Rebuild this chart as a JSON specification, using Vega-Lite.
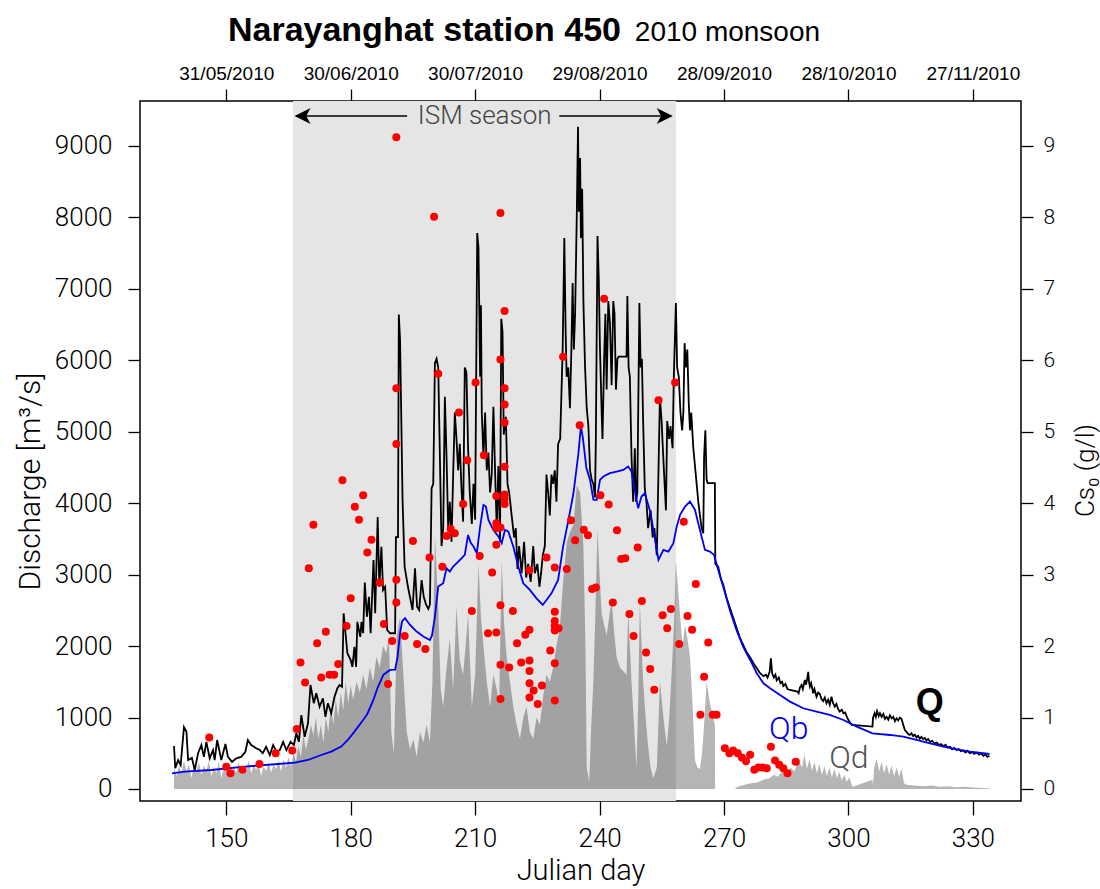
{
  "$schema": "https://vega.github.io/schema/vega-lite/v6.json",
  "width": 881,
  "height": 700,
  "autosize": {"type": "none"},
  "padding": {"left": 140, "top": 101, "right": 79, "bottom": 88},
  "background": "white",
  "config": {
    "view": {"stroke": "black", "strokeWidth": 1.5},
    "axis": {"grid": false, "domain": false, "tickColor": "black", "tickWidth": 1.3, "labelColor": "black", "titleColor": "black", "labelFont": "Roboto", "titleFont": "Roboto", "labelFontWeight": 300, "titleFontWeight": 300}
  },
  "datasets": {
    "q": [
      {"day":137.4,"q":600},{"day":137.7,"q":290},{"day":138.4,"q":405},{"day":139.0,"q":335},{"day":139.8,"q":865},{"day":140.4,"q":800},{"day":140.8,"q":405},{"day":141.7,"q":435},{"day":142.4,"q":265},{"day":143.2,"q":500},{"day":144.0,"q":615},{"day":144.6,"q":450},{"day":145.2,"q":660},{"day":146.0,"q":430},{"day":146.8,"q":545},{"day":147.2,"q":405},{"day":147.8,"q":685},{"day":148.8,"q":405},{"day":149.8,"q":630},{"day":150.4,"q":450},{"day":151.4,"q":380},{"day":152.4,"q":430},{"day":153.6,"q":450},{"day":154.6,"q":520},{"day":155.2,"q":685},{"day":156.0,"q":615},{"day":157.2,"q":570},{"day":158.1,"q":545},{"day":158.8,"q":500},{"day":159.6,"q":590},{"day":160.5,"q":475},{"day":161.3,"q":615},{"day":162.1,"q":520},{"day":162.9,"q":545},{"day":163.7,"q":660},{"day":164.5,"q":545},{"day":165.5,"q":660},{"day":166.3,"q":615},{"day":166.9,"q":780},{"day":167.5,"q":660},{"day":168.1,"q":1035},{"day":168.9,"q":730},{"day":169.7,"q":920},{"day":170.3,"q":1455},{"day":171.1,"q":1200},{"day":171.7,"q":1340},{"day":172.5,"q":1150},{"day":173.3,"q":1270},{"day":173.9,"q":1010},{"day":174.5,"q":1200},{"day":175.3,"q":1060},{"day":176.1,"q":1290},{"day":176.8,"q":1410},{"day":177.3,"q":1455},{"day":177.9,"q":1430},{"day":178.3,"q":2460},{"day":179.2,"q":1900},{"day":180.0,"q":1805},{"day":180.4,"q":1710},{"day":180.9,"q":1990},{"day":181.3,"q":1710},{"day":181.6,"q":2340},{"day":182.3,"q":2130},{"day":182.6,"q":2340},{"day":183.0,"q":2180},{"day":183.4,"q":2890},{"day":183.9,"q":2410},{"day":184.4,"q":2690},{"day":184.8,"q":2180},{"day":185.5,"q":3205},{"day":185.9,"q":2460},{"day":186.5,"q":3805},{"day":186.9,"q":2830},{"day":187.4,"q":3390},{"day":187.8,"q":2785},{"day":188.3,"q":2830},{"day":188.8,"q":2225},{"day":189.5,"q":2180},{"day":190.7,"q":2180},{"day":190.9,"q":3525},{"day":191.4,"q":3525},{"day":191.6,"q":6640},{"day":191.9,"q":6285},{"day":192.5,"q":4045},{"day":193.0,"q":3110},{"day":193.8,"q":2830},{"day":194.9,"q":2505},{"day":195.5,"q":3090},{"day":196.0,"q":2550},{"day":196.5,"q":2505},{"day":197.1,"q":2925},{"day":197.6,"q":2690},{"day":198.2,"q":2575},{"day":198.7,"q":2520},{"day":199.1,"q":2580},{"day":199.5,"q":4210},{"day":199.9,"q":4270},{"day":200.3,"q":5960},{"day":200.7,"q":6020},{"day":201.1,"q":5900},{"day":201.5,"q":4650},{"day":201.9,"q":3400},{"day":202.3,"q":3650},{"day":202.7,"q":5490},{"day":203.1,"q":4650},{"day":203.5,"q":3650},{"day":203.9,"q":4020},{"day":204.3,"q":3460},{"day":204.7,"q":4400},{"day":205.1,"q":5270},{"day":205.5,"q":4900},{"day":205.9,"q":4460},{"day":206.3,"q":4830},{"day":206.7,"q":4210},{"day":207.1,"q":3740},{"day":207.5,"q":5900},{"day":207.9,"q":5830},{"day":208.3,"q":4770},{"day":208.7,"q":4150},{"day":209.2,"q":3710},{"day":209.6,"q":4270},{"day":210.0,"q":3770},{"day":210.5,"q":7780},{"day":210.8,"q":7580},{"day":211.2,"q":5770},{"day":211.4,"q":6770},{"day":211.6,"q":5270},{"day":212.0,"q":4650},{"day":212.4,"q":5270},{"day":212.8,"q":4460},{"day":213.2,"q":4710},{"day":213.6,"q":4150},{"day":214.0,"q":4400},{"day":214.4,"q":5350},{"day":214.8,"q":4460},{"day":215.2,"q":3650},{"day":215.6,"q":4520},{"day":216.0,"q":3460},{"day":216.3,"q":6580},{"day":216.6,"q":6400},{"day":216.9,"q":4960},{"day":217.4,"q":5210},{"day":217.8,"q":4270},{"day":218.2,"q":4150},{"day":218.8,"q":3830},{"day":219.4,"q":3520},{"day":219.8,"q":3650},{"day":220.2,"q":3080},{"day":220.6,"q":3400},{"day":221.2,"q":3020},{"day":221.8,"q":3460},{"day":222.3,"q":2960},{"day":222.8,"q":3150},{"day":223.4,"q":2900},{"day":224.0,"q":3400},{"day":224.4,"q":3020},{"day":225.0,"q":3150},{"day":225.5,"q":2830},{"day":225.9,"q":3020},{"day":226.3,"q":3270},{"day":226.8,"q":3400},{"day":227.2,"q":4400},{"day":227.6,"q":4150},{"day":228.0,"q":3830},{"day":228.4,"q":4400},{"day":228.8,"q":4270},{"day":229.2,"q":4460},{"day":229.6,"q":4020},{"day":230.0,"q":4830},{"day":230.5,"q":4900},{"day":231.1,"q":6150},{"day":231.5,"q":7710},{"day":231.8,"q":6460},{"day":232.05,"q":5770},{"day":232.45,"q":5900},{"day":232.85,"q":5330},{"day":233.2,"q":6150},{"day":233.5,"q":7080},{"day":233.8,"q":6150},{"day":234.1,"q":6650},{"day":234.5,"q":8020},{"day":234.8,"q":9270},{"day":235.0,"q":8080},{"day":235.3,"q":8830},{"day":235.5,"q":7710},{"day":235.8,"q":8400},{"day":236.1,"q":6830},{"day":236.5,"q":5900},{"day":236.9,"q":5330},{"day":237.3,"q":5080},{"day":237.7,"q":4460},{"day":238.1,"q":4330},{"day":238.5,"q":4270},{"day":238.9,"q":4080},{"day":239.1,"q":4900},{"day":239.5,"q":7740},{"day":239.8,"q":7150},{"day":240.1,"q":6150},{"day":240.5,"q":5270},{"day":240.7,"q":4900},{"day":241.1,"q":6020},{"day":241.4,"q":6650},{"day":241.7,"q":5590},{"day":242.1,"q":6830},{"day":242.5,"q":6520},{"day":242.9,"q":5650},{"day":243.3,"q":6830},{"day":243.6,"q":6650},{"day":243.95,"q":5590},{"day":244.3,"q":6020},{"day":244.6,"q":6050},{"day":246.5,"q":6050},{"day":246.7,"q":6900},{"day":247.0,"q":5900},{"day":247.3,"q":5770},{"day":247.7,"q":4650},{"day":248.1,"q":4020},{"day":248.5,"q":4770},{"day":248.8,"q":4020},{"day":249.1,"q":4150},{"day":249.6,"q":6800},{"day":249.9,"q":5900},{"day":250.2,"q":6020},{"day":250.5,"q":5150},{"day":250.9,"q":4210},{"day":251.3,"q":4020},{"day":251.7,"q":3650},{"day":252.3,"q":3900},{"day":252.8,"q":3520},{"day":253.2,"q":3650},{"day":253.8,"q":3270},{"day":254.55,"q":5490},{"day":254.95,"q":5150},{"day":255.35,"q":4650},{"day":256.0,"q":3900},{"day":256.3,"q":5150},{"day":256.8,"q":4900},{"day":257.1,"q":5080},{"day":257.6,"q":4770},{"day":257.9,"q":5770},{"day":258.4,"q":6800},{"day":258.7,"q":5900},{"day":259.1,"q":5770},{"day":259.5,"q":5270},{"day":259.9,"q":5020},{"day":260.2,"q":5270},{"day":260.5,"q":6240},{"day":260.8,"q":5900},{"day":261.15,"q":6150},{"day":261.5,"q":5400},{"day":261.8,"q":5020},{"day":262.1,"q":5270},{"day":262.6,"q":4770},{"day":263.0,"q":4520},{"day":263.4,"q":4270},{"day":263.8,"q":4020},{"day":264.2,"q":3830},{"day":264.6,"q":3650},{"day":265.0,"q":3580},{"day":265.2,"q":4650},{"day":265.5,"q":5020},{"day":265.8,"q":4330},{"day":266.05,"q":4280},{"day":267.8,"q":4280},{"day":267.9,"q":3150},{"day":268.6,"q":3110},{"day":269.2,"q":2950},{"day":269.8,"q":2860},{"day":270.6,"q":2680},{"day":271.4,"q":2540},{"day":272.2,"q":2400},{"day":273.0,"q":2260},{"day":273.8,"q":2120},{"day":274.6,"q":2020},{"day":275.4,"q":1920},{"day":276.3,"q":1840},{"day":277.1,"q":1760},{"day":277.9,"q":1690},{"day":278.7,"q":1620},{"day":279.5,"q":1580},{"day":280.1,"q":1600},{"day":280.5,"q":1560},{"day":281.0,"q":1640},{"day":281.3,"q":1830},{"day":281.6,"q":1620},{"day":282.0,"q":1560},{"day":282.4,"q":1600},{"day":282.7,"q":1520},{"day":283.2,"q":1560},{"day":283.6,"q":1480},{"day":284.0,"q":1500},{"day":284.3,"q":1440},{"day":284.8,"q":1470},{"day":285.3,"q":1400},{"day":285.9,"q":1386},{"day":287.7,"q":1363},{"day":288.0,"q":1340},{"day":288.3,"q":1420},{"day":288.7,"q":1456},{"day":289.0,"q":1400},{"day":289.5,"q":1526},{"day":289.8,"q":1460},{"day":290.1,"q":1560},{"day":290.3,"q":1640},{"day":290.5,"q":1500},{"day":290.7,"q":1433},{"day":291.0,"q":1480},{"day":291.5,"q":1340},{"day":291.8,"q":1400},{"day":292.3,"q":1293},{"day":292.7,"q":1350},{"day":293.1,"q":1330},{"day":293.5,"q":1260},{"day":293.9,"q":1230},{"day":294.3,"q":1280},{"day":294.7,"q":1200},{"day":295.1,"q":1250},{"day":295.5,"q":1180},{"day":295.9,"q":1293},{"day":296.3,"q":1200},{"day":296.7,"q":1153},{"day":297.1,"q":1190},{"day":297.5,"q":1120},{"day":297.9,"q":1083},{"day":298.4,"q":1110},{"day":298.8,"q":1060},{"day":299.2,"q":1070},{"day":299.7,"q":1000},{"day":300.2,"q":943},{"day":300.8,"q":896},{"day":305.8,"q":873},{"day":305.9,"q":990},{"day":306.3,"q":1060},{"day":306.6,"q":1010},{"day":306.9,"q":1090},{"day":307.3,"q":1020},{"day":307.6,"q":1060},{"day":308.0,"q":1010},{"day":308.4,"q":1050},{"day":308.8,"q":980},{"day":309.2,"q":1010},{"day":309.6,"q":970},{"day":310.0,"q":1030},{"day":310.4,"q":990},{"day":310.8,"q":1010},{"day":311.2,"q":950},{"day":311.6,"q":990},{"day":312.0,"q":960},{"day":312.4,"q":1000},{"day":312.8,"q":980},{"day":313.2,"q":900},{"day":313.6,"q":826},{"day":314.0,"q":800},{"day":314.4,"q":770},{"day":314.8,"q":756},{"day":315.2,"q":780},{"day":315.6,"q":740},{"day":316.0,"q":760},{"day":316.4,"q":720},{"day":316.8,"q":745},{"day":317.2,"q":705},{"day":317.6,"q":730},{"day":318.0,"q":700},{"day":318.4,"q":715},{"day":318.8,"q":680},{"day":319.2,"q":700},{"day":319.7,"q":660},{"day":320.2,"q":675},{"day":320.7,"q":640},{"day":321.3,"q":650},{"day":321.8,"q":615},{"day":322.3,"q":630},{"day":322.9,"q":600},{"day":323.4,"q":620},{"day":323.9,"q":580},{"day":324.5,"q":590},{"day":325.0,"q":555},{"day":325.5,"q":575},{"day":326.1,"q":545},{"day":326.6,"q":560},{"day":327.1,"q":530},{"day":327.7,"q":540},{"day":328.2,"q":510},{"day":328.7,"q":535},{"day":329.3,"q":500},{"day":329.8,"q":520},{"day":330.3,"q":490},{"day":330.9,"q":510},{"day":331.5,"q":480},{"day":332.0,"q":500},{"day":332.5,"q":465},{"day":333.0,"q":480},{"day":333.5,"q":450},{"day":334.0,"q":465}
    ],
    "qb": [
      {"day":136.9,"q":219},{"day":140.0,"q":242},{"day":146.4,"q":266},{"day":154.4,"q":313},{"day":162.5,"q":350},{"day":166.5,"q":368},{"day":169.7,"q":406},{"day":172.9,"q":476},{"day":175.3,"q":523},{"day":177.7,"q":593},{"day":179.3,"q":686},{"day":180.9,"q":803},{"day":183.0,"q":966},{"day":184.0,"q":1050},{"day":185.5,"q":1250},{"day":186.5,"q":1420},{"day":187.9,"q":1600},{"day":189.5,"q":1666},{"day":190.7,"q":1670},{"day":191.3,"q":1850},{"day":191.9,"q":2180},{"day":192.4,"q":2350},{"day":193.1,"q":2390},{"day":194.3,"q":2296},{"day":195.9,"q":2203},{"day":197.5,"q":2133},{"day":199.1,"q":2086},{"day":199.6,"q":2150},{"day":200.3,"q":2413},{"day":201.1,"q":2833},{"day":202.3,"q":2879},{"day":203.1,"q":3089},{"day":203.9,"q":3043},{"day":204.7,"q":3113},{"day":205.5,"q":3159},{"day":206.7,"q":3229},{"day":207.5,"q":3276},{"day":208.3,"q":3556},{"day":208.9,"q":3450},{"day":209.6,"q":3393},{"day":210.4,"q":3300},{"day":211.2,"q":3673},{"day":212.0,"q":3976},{"day":212.6,"q":3953},{"day":213.2,"q":3766},{"day":214.4,"q":3626},{"day":215.6,"q":3533},{"day":216.4,"q":3440},{"day":217.2,"q":3626},{"day":218.0,"q":3603},{"day":219.2,"q":3393},{"day":220.4,"q":3113},{"day":221.6,"q":2879},{"day":223.2,"q":2786},{"day":224.8,"q":2669},{"day":226.3,"q":2576},{"day":227.2,"q":2646},{"day":228.4,"q":2739},{"day":230.0,"q":2926},{"day":231.2,"q":3393},{"day":232.5,"q":3766},{"day":233.7,"q":4139},{"day":234.9,"q":4699},{"day":235.5,"q":5080},{"day":236.0,"q":4900},{"day":236.8,"q":4500},{"day":237.7,"q":4326},{"day":238.5,"q":4050},{"day":239.3,"q":4046},{"day":240.1,"q":4326},{"day":240.9,"q":4373},{"day":242.5,"q":4420},{"day":244.1,"q":4443},{"day":245.7,"q":4466},{"day":246.9,"q":4513},{"day":247.7,"q":4443},{"day":248.9,"q":4046},{"day":249.3,"q":3929},{"day":250.1,"q":4093},{"day":250.9,"q":4139},{"day":252.2,"q":3883},{"day":253.4,"q":3486},{"day":254.2,"q":3206},{"day":255.4,"q":3346},{"day":256.6,"q":3323},{"day":257.8,"q":3439},{"day":258.6,"q":3673},{"day":259.4,"q":3836},{"day":260.6,"q":3953},{"day":261.8,"q":4023},{"day":263.0,"q":3906},{"day":264.2,"q":3626},{"day":265.4,"q":3346},{"day":266.6,"q":3323},{"day":267.6,"q":3276},{"day":268.6,"q":3066},{"day":269.8,"q":2833},{"day":271.4,"q":2506},{"day":273.0,"q":2226},{"day":274.6,"q":1993},{"day":276.3,"q":1806},{"day":277.9,"q":1619},{"day":279.5,"q":1479},{"day":281.1,"q":1409},{"day":283.5,"q":1316},{"day":285.9,"q":1223},{"day":289.1,"q":1130},{"day":292.3,"q":1083},{"day":295.5,"q":1036},{"day":298.8,"q":966},{"day":302.0,"q":873},{"day":305.8,"q":779},{"day":310.0,"q":756},{"day":313.2,"q":733},{"day":316.4,"q":686},{"day":319.7,"q":639},{"day":322.9,"q":593},{"day":326.1,"q":555},{"day":329.3,"q":523},{"day":334.0,"q":490}
    ],
    "qd": [
      {"day":137.4,"q":300},{"day":138.0,"q":180},{"day":138.6,"q":330},{"day":139.2,"q":220},{"day":139.8,"q":400},{"day":140.4,"q":250},{"day":141.0,"q":350},{"day":141.6,"q":150},{"day":142.2,"q":330},{"day":142.8,"q":240},{"day":143.4,"q":380},{"day":144.0,"q":200},{"day":144.6,"q":330},{"day":145.2,"q":250},{"day":145.8,"q":400},{"day":146.4,"q":180},{"day":147.0,"q":300},{"day":147.6,"q":220},{"day":148.2,"q":380},{"day":148.8,"q":150},{"day":149.4,"q":300},{"day":150.0,"q":250},{"day":150.6,"q":350},{"day":151.2,"q":180},{"day":151.8,"q":320},{"day":152.4,"q":230},{"day":153.0,"q":380},{"day":153.6,"q":200},{"day":154.2,"q":310},{"day":154.8,"q":260},{"day":155.4,"q":400},{"day":156.0,"q":220},{"day":156.6,"q":330},{"day":157.2,"q":270},{"day":157.8,"q":360},{"day":158.4,"q":190},{"day":159.0,"q":320},{"day":159.6,"q":250},{"day":160.2,"q":380},{"day":160.8,"q":230},{"day":161.4,"q":340},{"day":162.0,"q":280},{"day":162.6,"q":400},{"day":163.2,"q":250},{"day":163.8,"q":420},{"day":164.4,"q":300},{"day":165.0,"q":450},{"day":165.6,"q":320},{"day":166.2,"q":500},{"day":166.8,"q":380},{"day":167.4,"q":600},{"day":168.0,"q":450},{"day":168.6,"q":750},{"day":169.2,"q":550},{"day":169.8,"q":700},{"day":170.4,"q":900},{"day":171.0,"q":750},{"day":171.6,"q":1000},{"day":172.2,"q":700},{"day":172.8,"q":900},{"day":173.4,"q":650},{"day":174.0,"q":1000},{"day":174.6,"q":800},{"day":175.2,"q":1150},{"day":175.8,"q":900},{"day":176.4,"q":1250},{"day":177.0,"q":1000},{"day":177.6,"q":1350},{"day":178.2,"q":1100},{"day":178.8,"q":1500},{"day":179.4,"q":1200},{"day":180.0,"q":1450},{"day":180.6,"q":1250},{"day":181.4,"q":1500},{"day":182.2,"q":1350},{"day":183.0,"q":1600},{"day":183.8,"q":1400},{"day":184.6,"q":1700},{"day":185.4,"q":1500},{"day":186.2,"q":1850},{"day":187.0,"q":1700},{"day":187.8,"q":2000},{"day":188.6,"q":1900},{"day":189.2,"q":2150},{"day":189.8,"q":800},{"day":190.4,"q":500},{"day":191.1,"q":2150},{"day":191.9,"q":2400},{"day":192.7,"q":1600},{"day":193.5,"q":800},{"day":194.3,"q":550},{"day":195.1,"q":700},{"day":195.9,"q":450},{"day":196.7,"q":800},{"day":197.5,"q":650},{"day":198.3,"q":900},{"day":199.1,"q":650},{"day":199.7,"q":1500},{"day":200.3,"q":3550},{"day":201.1,"q":2550},{"day":201.7,"q":1400},{"day":202.3,"q":1150},{"day":203.1,"q":1700},{"day":203.9,"q":2100},{"day":204.7,"q":1400},{"day":205.5,"q":2550},{"day":206.3,"q":1800},{"day":207.1,"q":1600},{"day":207.7,"q":2000},{"day":208.3,"q":2450},{"day":209.2,"q":1150},{"day":210.0,"q":1600},{"day":210.8,"q":3150},{"day":211.4,"q":2400},{"day":212.0,"q":2000},{"day":212.8,"q":1500},{"day":213.6,"q":1150},{"day":214.4,"q":1600},{"day":215.2,"q":1400},{"day":215.8,"q":1200},{"day":216.4,"q":3200},{"day":217.0,"q":2300},{"day":217.6,"q":1850},{"day":218.4,"q":1500},{"day":219.2,"q":1150},{"day":220.0,"q":900},{"day":220.8,"q":700},{"day":221.6,"q":1000},{"day":222.4,"q":1150},{"day":223.2,"q":800},{"day":224.0,"q":700},{"day":224.8,"q":1000},{"day":225.6,"q":900},{"day":226.4,"q":1300},{"day":227.2,"q":1600},{"day":228.0,"q":1500},{"day":228.8,"q":1700},{"day":229.6,"q":2000},{"day":230.4,"q":2250},{"day":231.2,"q":2900},{"day":232.1,"q":3450},{"day":232.9,"q":3600},{"day":233.7,"q":3700},{"day":234.5,"q":4250},{"day":235.3,"q":4150},{"day":236.1,"q":3400},{"day":236.6,"q":2000},{"day":236.9,"q":300},{"day":237.5,"q":100},{"day":238.0,"q":900},{"day":238.5,"q":1500},{"day":239.0,"q":2500},{"day":239.5,"q":3650},{"day":240.0,"q":3000},{"day":240.5,"q":2450},{"day":241.1,"q":2300},{"day":241.7,"q":2150},{"day":242.3,"q":2400},{"day":242.9,"q":2650},{"day":243.5,"q":2200},{"day":244.1,"q":1850},{"day":244.9,"q":1700},{"day":246.5,"q":1600},{"day":246.9,"q":2500},{"day":247.7,"q":1500},{"day":248.3,"q":900},{"day":248.9,"q":300},{"day":249.3,"q":1200},{"day":249.7,"q":2600},{"day":250.5,"q":1500},{"day":251.1,"q":1000},{"day":251.7,"q":600},{"day":252.3,"q":300},{"day":252.95,"q":150},{"day":253.8,"q":300},{"day":254.55,"q":1500},{"day":255.4,"q":1000},{"day":256.2,"q":600},{"day":256.8,"q":1000},{"day":257.4,"q":1650},{"day":258.0,"q":2400},{"day":258.4,"q":3200},{"day":259.4,"q":2450},{"day":260.0,"q":2000},{"day":260.6,"q":2300},{"day":261.2,"q":2100},{"day":261.8,"q":1850},{"day":262.4,"q":1200},{"day":263.0,"q":400},{"day":263.6,"q":300},{"day":264.2,"q":280},{"day":264.7,"q":500},{"day":265.2,"q":900},{"day":265.8,"q":1500},{"day":266.6,"q":1200},{"day":267.4,"q":1000},{"day":267.8,"q":900},{"day":267.85,"q":0},{"day":272.5,"q":0},{"day":273.5,"q":40},{"day":275.0,"q":60},{"day":276.5,"q":80},{"day":278.0,"q":90},{"day":279.5,"q":130},{"day":281.0,"q":150},{"day":282.0,"q":200},{"day":283.0,"q":170},{"day":284.0,"q":250},{"day":285.0,"q":220},{"day":286.0,"q":300},{"day":287.0,"q":250},{"day":288.0,"q":400},{"day":288.8,"q":300},{"day":289.4,"q":480},{"day":290.0,"q":280},{"day":290.6,"q":420},{"day":291.2,"q":260},{"day":291.8,"q":380},{"day":292.4,"q":220},{"day":293.0,"q":350},{"day":293.6,"q":200},{"day":294.2,"q":320},{"day":294.8,"q":180},{"day":295.4,"q":300},{"day":296.0,"q":160},{"day":296.6,"q":280},{"day":297.2,"q":150},{"day":297.8,"q":240},{"day":298.4,"q":120},{"day":299.0,"q":200},{"day":299.6,"q":100},{"day":300.2,"q":160},{"day":300.8,"q":60},{"day":301.0,"q":30},{"day":305.8,"q":130},{"day":305.9,"q":40},{"day":306.2,"q":300},{"day":306.8,"q":420},{"day":307.4,"q":250},{"day":308.0,"q":380},{"day":308.6,"q":220},{"day":309.2,"q":350},{"day":309.8,"q":200},{"day":310.4,"q":330},{"day":311.0,"q":180},{"day":311.6,"q":300},{"day":312.2,"q":170},{"day":312.8,"q":280},{"day":313.4,"q":80},{"day":314.0,"q":60},{"day":316.0,"q":50},{"day":318.0,"q":40},{"day":320.0,"q":50},{"day":322.0,"q":30},{"day":324.0,"q":40},{"day":326.0,"q":25},{"day":328.0,"q":30},{"day":330.0,"q":20},{"day":332.0,"q":15},{"day":334.0,"q":10}
    ],
    "cs": [
      {"day":145.9,"cs":0.72},{"day":150.0,"cs":0.31},{"day":151.0,"cs":0.22},{"day":153.9,"cs":0.27},{"day":158.0,"cs":0.35},{"day":161.9,"cs":0.5},{"day":165.9,"cs":0.54},{"day":167.0,"cs":0.84},{"day":167.9,"cs":1.77},{"day":169.0,"cs":1.49},{"day":169.9,"cs":3.09},{"day":171.0,"cs":3.7},{"day":171.9,"cs":2.04},{"day":172.9,"cs":1.56},{"day":174.0,"cs":2.2},{"day":174.9,"cs":1.6},{"day":176.0,"cs":1.6},{"day":177.0,"cs":1.75},{"day":178.0,"cs":4.32},{"day":179.0,"cs":2.28},{"day":180.0,"cs":2.67},{"day":181.0,"cs":3.95},{"day":182.0,"cs":3.77},{"day":183.0,"cs":4.11},{"day":184.0,"cs":3.31},{"day":185.0,"cs":3.49},{"day":187.0,"cs":2.89},{"day":188.0,"cs":2.31},{"day":189.0,"cs":1.47},{"day":190.0,"cs":2.07},{"day":191.0,"cs":9.12},{"day":191.0,"cs":5.61},{"day":191.0,"cs":4.83},{"day":191.0,"cs":2.93},{"day":191.0,"cs":2.61},{"day":193.0,"cs":2.14},{"day":195.0,"cs":3.47},{"day":196.0,"cs":2.03},{"day":198.0,"cs":1.96},{"day":199.0,"cs":3.24},{"day":200.1,"cs":8.01},{"day":201.1,"cs":5.81},{"day":202.1,"cs":3.11},{"day":203.1,"cs":3.54},{"day":204.1,"cs":3.64},{"day":205.1,"cs":3.58},{"day":206.1,"cs":5.27},{"day":207.1,"cs":3.99},{"day":208.1,"cs":4.6},{"day":209.2,"cs":2.49},{"day":210.1,"cs":5.69},{"day":211.1,"cs":3.26},{"day":212.1,"cs":4.67},{"day":213.1,"cs":2.18},{"day":214.1,"cs":3.03},{"day":215.1,"cs":4.1},{"day":215.1,"cs":3.72},{"day":215.1,"cs":3.65},{"day":215.1,"cs":3.42},{"day":215.1,"cs":2.19},{"day":216.1,"cs":8.06},{"day":216.1,"cs":6.01},{"day":216.1,"cs":3.66},{"day":216.1,"cs":2.57},{"day":216.1,"cs":1.74},{"day":216.1,"cs":1.26},{"day":217.1,"cs":6.69},{"day":217.1,"cs":5.61},{"day":217.1,"cs":5.38},{"day":217.1,"cs":5.13},{"day":217.1,"cs":4.51},{"day":217.1,"cs":4.12},{"day":217.1,"cs":4.06},{"day":217.1,"cs":3.99},{"day":218.2,"cs":1.7},{"day":219.1,"cs":2.49},{"day":220.1,"cs":2.04},{"day":221.1,"cs":1.77},{"day":222.1,"cs":2.16},{"day":223.1,"cs":3.06},{"day":223.1,"cs":2.23},{"day":223.1,"cs":1.8},{"day":223.1,"cs":1.65},{"day":223.1,"cs":1.48},{"day":223.1,"cs":1.28},{"day":224.1,"cs":1.38},{"day":225.1,"cs":1.19},{"day":226.1,"cs":1.45},{"day":227.2,"cs":3.24},{"day":228.1,"cs":1.94},{"day":229.2,"cs":3.1},{"day":229.2,"cs":2.48},{"day":229.2,"cs":2.35},{"day":229.2,"cs":2.28},{"day":229.2,"cs":2.22},{"day":229.2,"cs":1.76},{"day":229.2,"cs":1.24},{"day":230.1,"cs":2.25},{"day":231.2,"cs":6.05},{"day":232.1,"cs":3.08},{"day":233.1,"cs":3.76},{"day":234.1,"cs":3.48},{"day":235.2,"cs":5.09},{"day":236.2,"cs":3.63},{"day":237.2,"cs":3.55},{"day":238.2,"cs":2.8},{"day":239.1,"cs":2.82},{"day":240.2,"cs":4.11},{"day":241.1,"cs":6.86},{"day":242.2,"cs":3.98},{"day":243.2,"cs":2.61},{"day":244.2,"cs":3.62},{"day":245.2,"cs":3.22},{"day":246.2,"cs":3.23},{"day":247.2,"cs":2.45},{"day":248.2,"cs":2.14},{"day":249.2,"cs":3.38},{"day":250.2,"cs":2.63},{"day":251.2,"cs":1.91},{"day":252.2,"cs":1.68},{"day":253.2,"cs":1.39},{"day":254.2,"cs":5.44},{"day":255.2,"cs":2.43},{"day":256.3,"cs":2.25},{"day":257.2,"cs":2.52},{"day":258.2,"cs":5.69},{"day":259.2,"cs":2.03},{"day":260.3,"cs":3.74},{"day":261.2,"cs":2.42},{"day":262.3,"cs":2.23},{"day":263.2,"cs":2.87},{"day":264.3,"cs":1.04},{"day":265.2,"cs":1.57},{"day":266.2,"cs":2.05},{"day":267.3,"cs":1.04},{"day":268.2,"cs":1.04},{"day":270.2,"cs":0.57},{"day":271.3,"cs":0.5},{"day":272.2,"cs":0.54},{"day":273.3,"cs":0.5},{"day":274.3,"cs":0.44},{"day":275.3,"cs":0.39},{"day":276.3,"cs":0.48},{"day":277.3,"cs":0.27},{"day":278.3,"cs":0.3},{"day":279.3,"cs":0.3},{"day":280.3,"cs":0.29},{"day":281.3,"cs":0.59},{"day":282.3,"cs":0.4},{"day":283.3,"cs":0.34},{"day":284.3,"cs":0.29},{"day":285.3,"cs":0.22},{"day":287.3,"cs":0.38}
    ]
  },
  "layer": [
    {
      "data": {"values": [{"day": 166.1, "day2": 258.4}]},
      "mark": {"type": "rect", "color": "#e5e5e5"},
      "encoding": {
        "x": {"field": "day", "type": "quantitative", "scale": {"domain": [129.2, 341.6], "nice": false, "zero": false}, "axis": null},
        "x2": {"field": "day2"}
      }
    },
    {
      "encoding": {
        "x": {"field": "day", "type": "quantitative", "scale": {"domain": [129.2, 341.6], "nice": false, "zero": false},
              "axis": {"orient": "bottom", "values": [150, 180, 210, 240, 270, 300, 330], "title": "Julian day", "tickSize": 14, "labelPadding": 10, "labelFontSize": 26, "titleFontSize": 29, "titleY": 69, "titleBaseline": "middle", "labelFlush": false}},
        "y": {"field": "q", "type": "quantitative", "scale": {"domain": [-168, 9629], "nice": false, "zero": false},
              "axis": {"orient": "left", "values": [0, 1000, 2000, 3000, 4000, 5000, 6000, 7000, 8000, 9000], "format": "d", "title": "Discharge [m³/s]", "tickSize": 12, "labelPadding": 16, "labelFontSize": 26, "titleFontSize": 30, "titleAngle": 270, "titleX": -110, "titleY": 380, "titleAlign": "center", "titleBaseline": "middle"}}
      },
      "layer": [
        {"data": {"name": "qd"}, "mark": {"type": "area", "color": "#000000", "opacity": 0.29}, "encoding": {"y2": {"datum": 0}}},
        {"data": {"name": "q"}, "mark": {"type": "line", "color": "#000000", "strokeWidth": 1.8}, "encoding": {}},
        {"data": {"name": "qb"}, "mark": {"type": "line", "color": "#0000ee", "strokeWidth": 1.8}, "encoding": {}},
        {"data": {"values": [{"day": 166.8, "day2": 193.6, "q": 9419}, {"day": 230.3, "day2": 257.3, "q": 9419}]},
         "mark": {"type": "rule", "color": "black", "strokeWidth": 1.5}, "encoding": {"x2": {"field": "day2"}}},
        {"data": {"values": [{"day": 168.4, "q": 9419}]}, "mark": {"type": "point", "shape": "M-1,0L1,-1L0.45,0L1,1Z", "size": 256, "filled": true, "color": "black", "opacity": 1}, "encoding": {}},
        {"data": {"values": [{"day": 255.7, "q": 9419}]}, "mark": {"type": "point", "shape": "M1,0L-1,-1L-0.45,0L-1,1Z", "size": 256, "filled": true, "color": "black", "opacity": 1}, "encoding": {}},
        {"data": {"values": [{"day": 212.3, "q": 9419, "label": "ISM season"}]},
         "mark": {"type": "text", "font": "Roboto", "fontWeight": 300, "fontSize": 26, "color": "#444444", "align": "center", "baseline": "middle"},
         "encoding": {"text": {"field": "label"}}},
        {"data": {"values": [{"day": 319.6, "q": 1204, "label": "Q"}]},
         "mark": {"type": "text", "font": "Liberation Sans", "fontWeight": "bold", "fontSize": 36, "color": "black", "align": "center", "baseline": "middle"},
         "encoding": {"text": {"field": "label"}}},
        {"data": {"values": [{"day": 285.6, "q": 840, "label": "Qb"}]},
         "mark": {"type": "text", "font": "Roboto", "fontWeight": 300, "fontSize": 32, "color": "#0000ee", "align": "center", "baseline": "middle"},
         "encoding": {"text": {"field": "label"}}},
        {"data": {"values": [{"day": 300.1, "q": 434, "label": "Qd"}]},
         "mark": {"type": "text", "font": "Roboto", "fontWeight": 300, "fontSize": 32, "color": "#555555", "align": "center", "baseline": "middle"},
         "encoding": {"text": {"field": "label"}}},
        {"data": {"values": [{"day": 150.4, "q": 10469, "label": "Narayanghat station 450"}]},
         "mark": {"type": "text", "font": "Liberation Sans", "fontWeight": "bold", "fontSize": 34, "color": "black", "align": "left", "baseline": "alphabetic"},
         "encoding": {"text": {"field": "label"}}},
        {"data": {"values": [{"day": 248.5, "q": 10469, "label": "2010 monsoon"}]},
         "mark": {"type": "text", "font": "Liberation Sans", "fontSize": 28, "color": "black", "align": "left", "baseline": "alphabetic"},
         "encoding": {"text": {"field": "label"}}}
      ]
    },
    {
      "data": {"name": "cs"},
      "mark": {"type": "circle", "color": "#ff0000", "size": 64, "opacity": 1},
      "encoding": {
        "x": {"field": "day", "type": "quantitative", "scale": {"domain": [129.2, 341.6], "nice": false, "zero": false},
              "axis": {"orient": "top", "values": [150, 180, 210, 240, 270, 300, 330], "labelExpr": "timeFormat(datetime(2010, 0, 1 + datum.value), '%d/%m/%Y')", "title": null, "tickSize": 12, "labelPadding": 6, "labelFont": "Liberation Sans", "labelFontSize": 19, "labelFontWeight": 400, "labelFlush": false}},
        "y": {"field": "cs", "type": "quantitative", "scale": {"domain": [-0.168, 9.629], "nice": false, "zero": false},
              "axis": {"orient": "right", "values": [0, 1, 2, 3, 4, 5, 6, 7, 8, 9], "title": "Cs₀ (g/l)", "titleAngle": 270, "titleX": 64, "titleY": 369, "titleAlign": "center", "titleBaseline": "middle", "tickSize": 12, "labelPadding": 10, "labelFontSize": 21, "titleFontSize": 26}}
      }
    }
  ],
  "resolve": {"scale": {"y": "independent"}, "axis": {"x": "independent", "y": "independent"}}
}
